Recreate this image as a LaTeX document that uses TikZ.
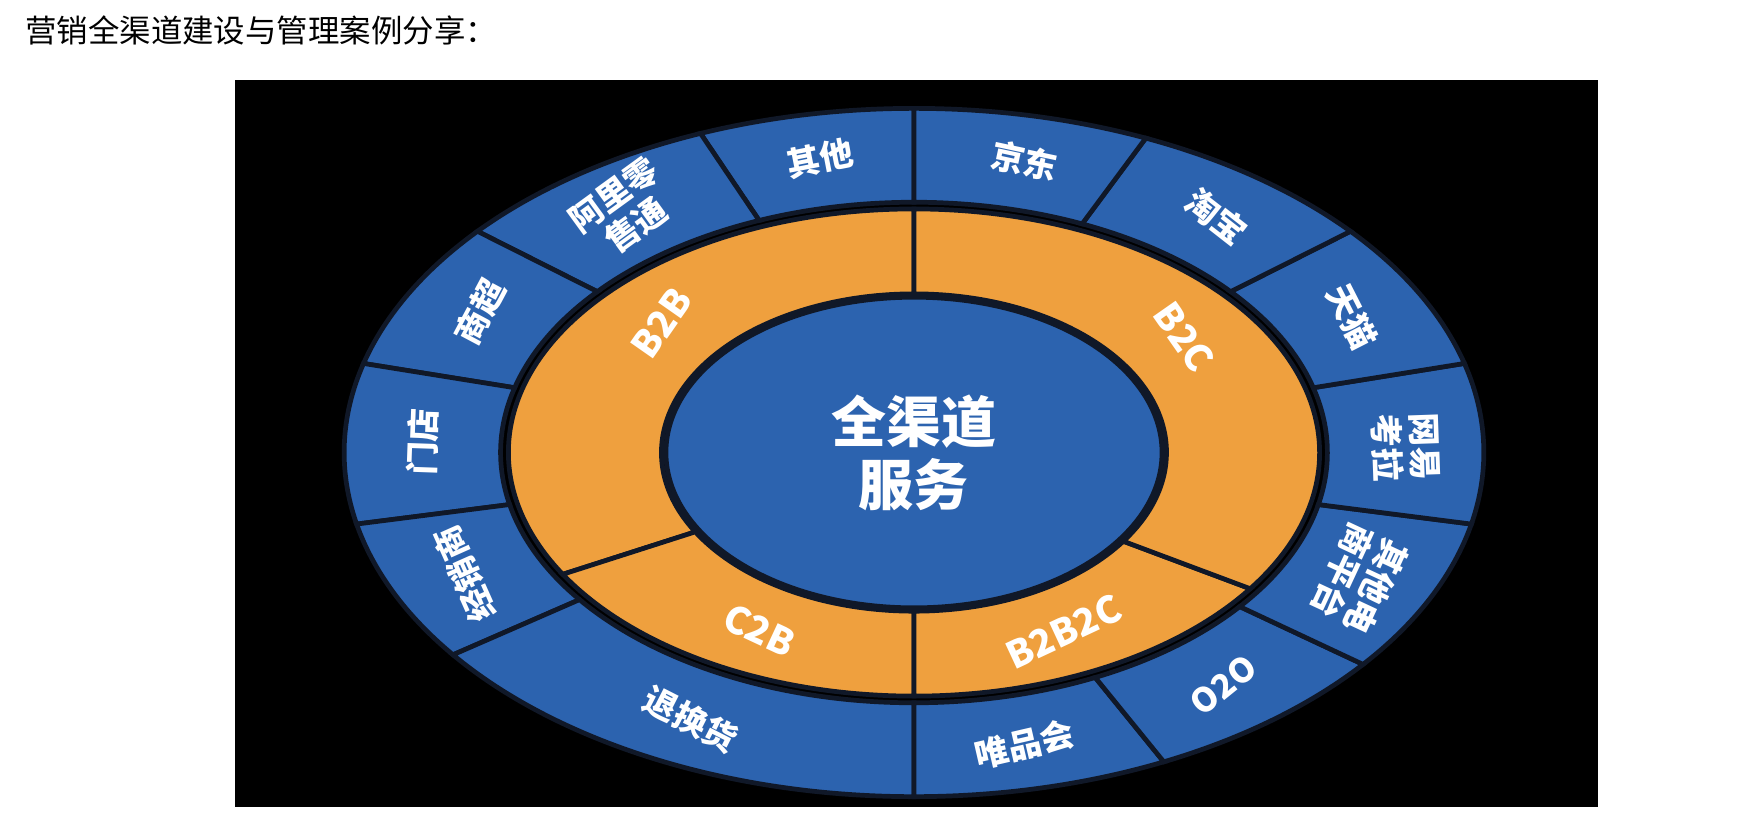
\documentclass[tikz,border=0pt]{standalone}
\usepackage{fontspec}
\newfontfamily\cjk{Noto Sans CJK SC}
\definecolor{rblue}{HTML}{2C63AF}
\definecolor{rorange}{HTML}{EFA03E}
\definecolor{rdark}{HTML}{101828}
\begin{document}
\begin{tikzpicture}[x=0.01cm,y=0.01cm,
  seg/.style={draw=rdark,line width=1.2pt},
  olab/.style={text=white,font=\cjk\bfseries\fontsize{8.5}{9.5}\selectfont,align=center,inner sep=0pt},
  rlab/.style={text=white,font=\cjk\bfseries\fontsize{9.5}{10}\selectfont,inner sep=0pt}]
\useasboundingbox (0,0) rectangle (1568,742);
\fill[white] (0,0) rectangle (1568,742);
\node[anchor=west,font=\cjk\fontsize{8}{9}\selectfont,inner sep=0pt] (title) at (22,715) {营销全渠道建设与管理案例分享：};
\fill[black] (210,20) rectangle (1430,670);
\begin{scope}[shift={(818,337)}]
\newcommand{\ringseg}[7]{% a1 a2 Rx1 Ry1 Rx2 Ry2 color
  \path[seg,fill=#7] (#1:#3 and #4) arc[start angle=#1,end angle=#2,x radius=#3,y radius=#4]
   -- (#2:#5 and #6) arc[start angle=#2,end angle=#1,x radius=#5,y radius=#6] -- cycle;}
\foreach \a/\b in {90/112,112/140,140/165,165/192,192/216,216/270,270/296,296/322,322/348,348/375,375/400,400/426,426/450}
  {\ringseg{\a}{\b}{510}{308}{370}{224}{rblue}}
\foreach \a/\b in {90/210,210/270,270/326,326/450}
  {\ringseg{\a}{\b}{363}{218}{226}{142}{rorange}}
\fill[rblue,draw=rdark,line width=1.2pt] (0,0) ellipse [x radius=222,y radius=139];
\node[text=white,font=\cjk\bfseries\fontsize{14}{16}\selectfont,align=center] (center) at (0,0) {全渠道\\服务};
\node[olab,rotate=11] (l1) at (101:440 and 268) {其他};
\node[olab,rotate=36] (l2) at (126:440 and 268) {阿里零\\售通};
\node[olab,rotate=62] (l3) at (152:440 and 268) {商超};
\node[olab,rotate=88] (l4) at (178:440 and 268) {门店};
\node[olab,rotate=114] (l5) at (204:440 and 268) {经销商};
\node[olab,rotate=-27] (l6) at (243:440 and 268) {退换货};
\node[olab,rotate=-12] (r1) at (77:440 and 268) {京东};
\node[olab,rotate=-38] (r2) at (52:440 and 268) {淘宝};
\node[olab,rotate=-63] (r3) at (27:440 and 268) {天猫};
\node[olab,rotate=-88] (r4) at (1:440 and 268) {网易\\考拉};
\node[olab,rotate=-115] (r5) at (335:440 and 268) {其他电\\商平台};
\node[olab,rotate=39] (r6) at (309:440 and 268) {O2O};
\node[olab,rotate=13] (r7) at (283:440 and 268) {唯品会};
\node[rlab,rotate=55] (b2b) at (140:295 and 180) {B2B};
\node[rlab,rotate=-55] (b2c) at (35:295 and 180) {B2C};
\node[rlab,rotate=-25] (c2b) at (242:295 and 180) {C2B};
\node[rlab,rotate=25] (b2b2c) at (297:295 and 180) {B2B2C};
\end{scope}
\end{tikzpicture}
\end{document}
